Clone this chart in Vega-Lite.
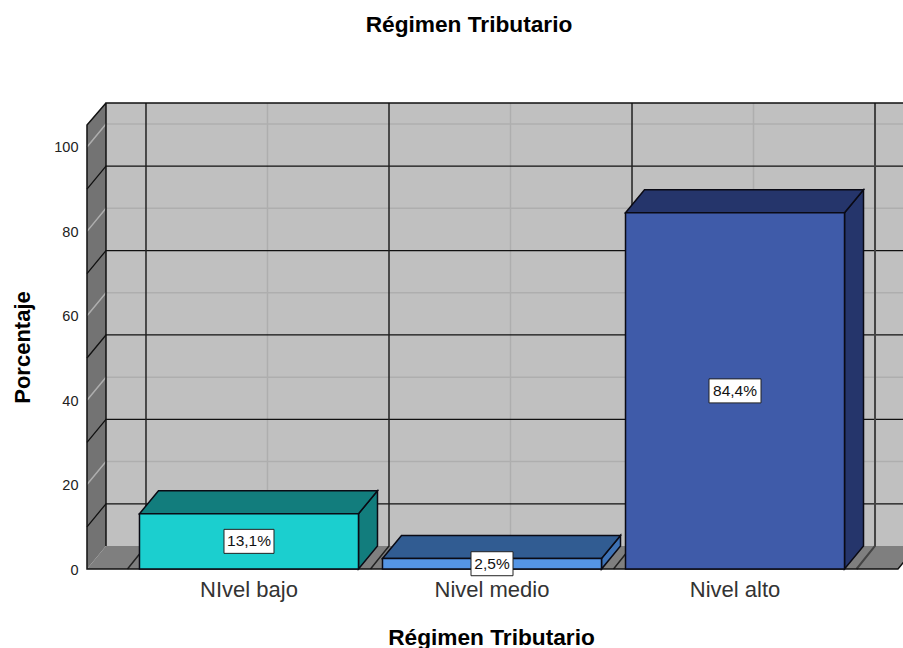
{
"$schema":"https://vega.github.io/schema/vega-lite/v6.json",
"autosize":{"type":"none"},
"padding":{"left":87,"top":125,"right":0,"bottom":79},
"width":816,"height":444,
"background":"white",
"title":{"text":"Régimen Tributario","font":"Liberation Sans","fontSize":22.7,"fontWeight":"bold","color":"#000000","anchor":"middle","dx":-26,"offset":62},
"config":{"view":{"stroke":null},"font":"Liberation Sans"},
"datasets":{
"bars":[{"category":"NIvel bajo","value":13.1,"label":"13,1%"},{"category":"Nivel medio","value":2.5,"label":"2,5%"},{"category":"Nivel alto","value":84.4,"label":"84,4%"}],
"major":[{"tick":10},{"tick":30},{"tick":50},{"tick":70},{"tick":90}],
"minor":[{"tick":20},{"tick":40},{"tick":60},{"tick":80},{"tick":100}],
"anchor":[{"category":"NIvel bajo","tick":0}],
"last":[{"category":"Nivel alto","tick":0}]
},
"encoding":{
"x":{"field":"category","type":"nominal","sort":null,"scale":{"type":"band","domain":["NIvel bajo","Nivel medio","Nivel alto"],"range":[0,810],"paddingInner":0.0988,"paddingOuter":0.216},
"axis":{"domain":false,"ticks":false,"labelAngle":0,"labelFontSize":22,"labelColor":"#333333","labelPadding":10,"title":"Régimen Tributario","titleFontSize":22.7,"titleFontWeight":"bold","titleColor":"#000000","titleX":404,"titleY":68,"titleBaseline":"middle"}}
},
"layer":[
{"data":{"name":"anchor"},"mark":{"type":"point","size":4,"opacity":1,"filled":true,"fill":"#C0C0C0","strokeWidth":0,"shape":"M-143,-23 L-143,-466 L680,-466 L680,-23 Z"},
"encoding":{"y":{"field":"tick","type":"quantitative","scale":{"domain":[0,105.2],"nice":false,"zero":false},"axis":{"values":[0,20,40,60,80,100],"grid":false,"domain":false,"ticks":false,"labelFontSize":14.5,"labelColor":"#222222","labelPadding":9,"labelOffset":1,"title":"Porcentaje","titleFontSize":22,"titleFontWeight":"bold","titleColor":"#000000","titleX":-53}}}},
{"data":{"name":"anchor"},"mark":{"type":"point","size":4,"opacity":1,"filled":true,"fill":"#7F7F7F","strokeWidth":0,"shape":"M-162,0 L-143,-23 L668,-23 L649,0 Z"},
"encoding":{"y":{"field":"tick","type":"quantitative"}}},
{"data":{"name":"anchor"},"mark":{"type":"point","size":4,"opacity":1,"filled":true,"fill":"#737373","strokeWidth":0,"shape":"M-162,0 L-143,-23 L-143,-466 L-162,-444 Z"},
"encoding":{"y":{"field":"tick","type":"quantitative"}}},
{"data":{"name":"minor"},"transform":[{"calculate":"'NIvel bajo'","as":"category"}],"mark":{"type":"point","size":4,"opacity":1,"filled":false,"stroke":"#AEAEAE","strokeWidth":1.5,"shape":"M-162,0 L-143,-23 L680,-23"},
"encoding":{"y":{"field":"tick","type":"quantitative"}}},
{"data":{"name":"bars"},"mark":{"type":"point","size":4,"opacity":1,"filled":false,"stroke":"#AEAEAE","strokeWidth":1.5,"shape":"M18.5,-23 L18.5,-466"},
"encoding":{"y":{"datum":0,"type":"quantitative"}}},
{"data":{"name":"major"},"transform":[{"calculate":"'NIvel bajo'","as":"category"}],"mark":{"type":"point","size":4,"opacity":1,"filled":false,"stroke":"#111111","strokeWidth":1.3,"shape":"M-162,0 L-143,-23 L680,-23"},
"encoding":{"y":{"field":"tick","type":"quantitative"}}},
{"data":{"name":"bars"},"mark":{"type":"point","size":4,"opacity":1,"filled":false,"stroke":"#222222","strokeWidth":1.5,"shape":"M-121.5,0 L-103,-23 L-103,-466"},
"encoding":{"y":{"datum":0,"type":"quantitative"}}},
{"data":{"name":"last"},"mark":{"type":"point","size":4,"opacity":1,"filled":false,"stroke":"#444444","strokeWidth":2,"shape":"M121.5,0 L140,-23 L140,-466"},
"encoding":{"y":{"field":"tick","type":"quantitative"}}},
{"data":{"name":"anchor"},"mark":{"type":"point","size":4,"opacity":1,"filled":false,"stroke":"#111111","strokeWidth":1.5,"shape":"M-143,-23 L-143,-466 L680,-466 M-143,-466 L-162,-444 L-162,0 L649,0 L668,-23"},
"encoding":{"y":{"field":"tick","type":"quantitative"}}},
{"data":{"name":"bars"},"mark":{"type":"point","size":4,"opacity":1,"filled":true,"stroke":"#0A0A14","strokeWidth":1.5},
"encoding":{"y":{"field":"value","type":"quantitative"},
"shape":{"field":"category","type":"nominal","legend":null,"scale":{"domain":["NIvel bajo","Nivel medio","Nivel alto"],"range":["M109.5,0 L128.5,-23 L128.5,32.3 L109.5,55.3 Z","M109.5,0 L128.5,-23 L128.5,-12.4 L109.5,10.6 Z","M109.5,0 L128.5,-23 L128.5,333.2 L109.5,356.2 Z"]}},
"fill":{"field":"category","type":"nominal","legend":null,"scale":{"domain":["NIvel bajo","Nivel medio","Nivel alto"],"range":["#127D7D","#3E72B5","#25356B"]}}}},
{"data":{"name":"bars"},"mark":{"type":"point","size":4,"opacity":1,"filled":true,"stroke":"#0A0A14","strokeWidth":1.5,"shape":"M-109.5,0 L-90.5,-23 L128.5,-23 L109.5,0 Z"},
"encoding":{"y":{"field":"value","type":"quantitative"},
"fill":{"field":"category","type":"nominal","legend":null,"scale":{"domain":["NIvel bajo","Nivel medio","Nivel alto"],"range":["#127D7D","#315C92","#25356B"]}}}},
{"data":{"name":"bars"},"mark":{"type":"bar","stroke":"#0A0A14","strokeWidth":1.5},
"encoding":{"y":{"field":"value","type":"quantitative"},
"fill":{"field":"category","type":"nominal","legend":null,"scale":{"domain":["NIvel bajo","Nivel medio","Nivel alto"],"range":["#1BCFCF","#5595E5","#3F5BA9"]}}}},
{"data":{"name":"bars"},"transform":[{"calculate":"datum.value/2","as":"mid"}],"mark":{"type":"point","size":4,"opacity":1,"filled":true,"fill":"#FFFFFF","stroke":"#222222","strokeWidth":1},
"encoding":{"y":{"field":"mid","type":"quantitative"},
"shape":{"field":"category","type":"nominal","legend":null,"scale":{"domain":["NIvel bajo","Nivel medio","Nivel alto"],"range":["M-25,-12 L25,-12 L25,12 L-25,12 Z","M-21,-12 L21,-12 L21,12 L-21,12 Z","M-26,-12 L26,-12 L26,12 L-26,12 Z"]}}}},
{"data":{"name":"bars"},"transform":[{"calculate":"datum.value/2","as":"mid"}],"mark":{"type":"text","fontSize":15.5,"color":"#111111","baseline":"middle","align":"center"},
"encoding":{"y":{"field":"mid","type":"quantitative"},"text":{"field":"label"}}}
],
"resolve":{"scale":{"fill":"independent","shape":"independent"}}
}
